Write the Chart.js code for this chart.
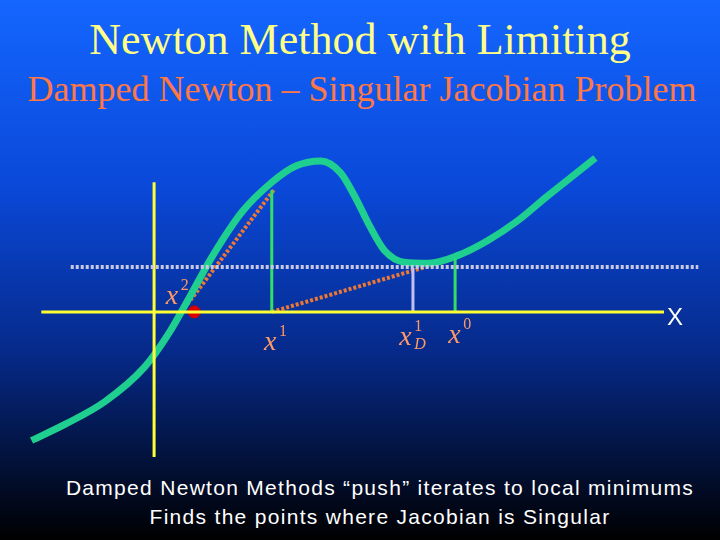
<!DOCTYPE html>
<html><head><meta charset="utf-8">
<script src="https://cdn.jsdelivr.net/npm/chart.js@4"></script>
<style>
html,body{margin:0;padding:0;width:720px;height:540px;overflow:hidden}
body{background:linear-gradient(to bottom,#1466ff 0%,#0a48d8 35%,#062a8a 65%,#000 100%);position:relative;font-family:"Liberation Serif",serif}
#c{position:absolute;left:0;top:0}
.t{position:absolute;left:0;width:720px;text-align:center;white-space:nowrap}
</style></head><body>
<div class="t" style="top:14px;font-size:44px;color:#ffff88">Newton Method with Limiting</div>
<div class="t" style="top:68px;font-size:36px;color:#ff7744;left:2px">Damped Newton – Singular Jacobian Problem</div>
<div class="t" style="top:476px;font-family:'Liberation Sans',sans-serif;font-size:21px;letter-spacing:1.3px;color:#fff;left:20px">Damped Newton Methods “push” iterates to local minimums</div>
<div class="t" style="top:505px;font-family:'Liberation Sans',sans-serif;font-size:21px;letter-spacing:1.3px;color:#fff;left:20px">Finds the points where Jacobian is Singular</div>
<canvas id="c" width="720" height="540"></canvas>
<script>
const curveX=[25,60,100,140,165,185,210,240,270,295,320,340,355,370,385,405,430,460,490,520,550,575,600];
const curveY=[445,428,405,370,335,300,255,210,180,163,158,170,195,225,250,262,263,255,240,220,195,175,155];
const axisH=[[35,313],[670,313]];
const axisV=[[150,180],[150,462]];
const dotted=[[65,267],[705,267]];
const green1=[[270,188],[270,313]];
const green2=[[457,258],[457,313]];
const purple=[[414,268],[414,313]];
const tangent1=[[272,188],[178,313]];
const tangent2=[[270,313],[457,258]];
const redDot=[[191,313]];
const labels=[{t:"x",s:"2",sub:"",x:162,y:305},{t:"x",s:"1",sub:"",x:262,y:352},{t:"x",s:"1",sub:"D",x:400,y:347},{t:"x",s:"0",sub:"",x:450,y:345}];
const pts=a=>a.map(p=>({x:p[0],y:p[1]}));
const ln=(d,c,w,dash)=>({data:pts(d),showLine:true,borderColor:c,borderWidth:w,borderDash:dash||[],pointRadius:0,fill:false});
const ds=[
 ln(dotted,'#c8c8e0',4,[3,2]),
 ln(axisH,'#ffff33',3),ln(axisV,'#ffff33',3),
 ln(green1,'#33dd66',3),ln(green2,'#33dd66',3),ln(purple,'#c0c0f0',3),
 {data:curveX.map((x,i)=>({x,y:curveY[i]})),showLine:true,borderColor:'#1fcf8f',borderWidth:7,pointRadius:0,tension:0.4,cubicInterpolationMode:'monotone',fill:false},
 ln(tangent1,'#ee7733',4,[3,2]),ln(tangent2,'#ee7733',4,[3,2]),
 {data:pts(redDot),pointRadius:6,pointBackgroundColor:'#dd0000',pointBorderColor:'#dd0000',showLine:false}
];
const lab={id:'lab',afterDraw(ch){const c=ch.ctx,xs=ch.scales.x,ys=ch.scales.y;c.save();c.fillStyle='#ff9966';
 labels.forEach(l=>{const X=xs.getPixelForValue(l.x),Y=ys.getPixelForValue(l.y);c.font='italic 28px "Liberation Serif"';c.fillText(l.t,X,Y);c.font='16px "Liberation Serif"';c.fillText(l.s,X+15,Y-14);if(l.sub){c.font='italic 16px "Liberation Serif"';c.fillText(l.sub,X+15,Y+4);}});
 c.fillStyle='#fff';c.font='24px "Liberation Sans"';c.fillText('X',xs.getPixelForValue(673),ys.getPixelForValue(326));c.restore();}};
new Chart(document.getElementById('c'),{type:'scatter',data:{datasets:ds},plugins:[lab],
 options:{responsive:false,animation:false,layout:{padding:0},plugins:{legend:{display:false},tooltip:{enabled:false}},
 scales:{x:{type:'linear',min:0,max:720,display:false},y:{type:'linear',min:0,max:540,reverse:true,display:false}}}});
</script></body></html>
